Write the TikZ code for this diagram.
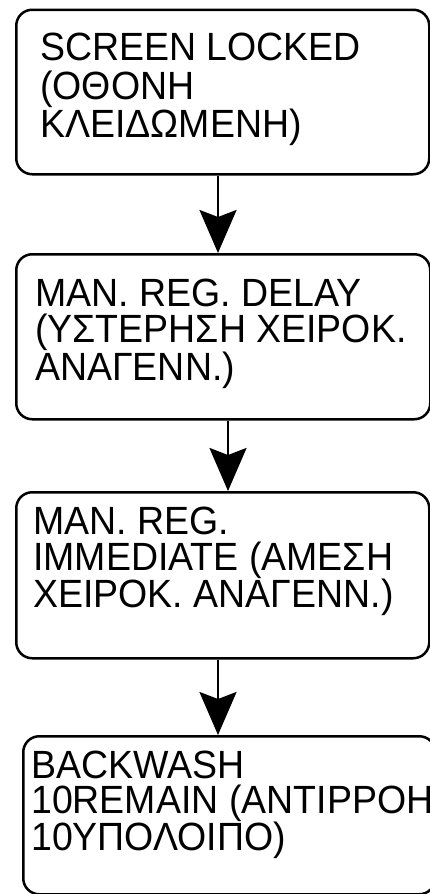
\documentclass[tikz,border=0pt]{standalone}
\usepackage{fontspec}
\setmainfont{Liberation Sans}
\usetikzlibrary{arrows.meta}

\begin{document}
\begin{tikzpicture}[x=1pt, y=-1pt,
  stepbox/.style={draw=black, line width=2.5pt, rounded corners=16pt, inner sep=0pt},
  steptext/.style={anchor=base west, inner sep=0pt},
  flow/.style={line width=2.5pt, -{Stealth[length=43pt, width=37pt, inset=7pt]}}]
  \useasboundingbox (0,0) rectangle (430,894);
  \clip (0,0) rectangle (430,894);

  % boxes
  \node[stepbox, minimum width=413pt, minimum height=164.5pt, anchor=north west] (b1) at (15,8.5) {};
  \node[stepbox, minimum width=414pt, minimum height=165pt, anchor=north west] (b2) at (15,253) {};
  \node[stepbox, minimum width=413pt, minimum height=166pt, anchor=north west] (b3) at (15,491) {};
  \node[stepbox, minimum width=412pt, minimum height=158pt, anchor=north west] (b4) at (22,735) {};

  % texts: slightly tall sans lettering, first argument is the line pitch
  \newcommand\steplines[2]{\scalebox{1}[1.05]{\parbox[t]{500pt}{\raggedright\fontsize{37.5}{#1}\selectfont #2}}}
  \node[steptext] (t1) at (40,60.5) {\steplines{36.7}{SCREEN LOCKED\\(ΟΘΟΝΗ\\ΚΛΕΙΔΩΜΕΝΗ)}};
  \node[steptext] (t2) at (35,306) {\steplines{34.8}{MAN. REG. DELAY\\(ΥΣΤΕΡΗΣΗ ΧΕΙΡΟΚ.\\ΑΝΑΓΕΝΝ.)}};
  \node[steptext] (t3) at (33,534) {\steplines{35.2}{MAN. REG.\\IMMEDIATE (ΑΜΕΣΗ\\ΧΕΙΡΟΚ. ΑΝΑΓΕΝΝ.)}};
  \node[steptext] (t4) at (31,778) {\steplines{33.5}{BACKWASH\\10REMAIN (ΑΝΤΙΡΡΟΗ\\10ΥΠΟΛΟΙΠΟ)}};

  % connectors
  \draw[flow] (b1.south -| 218,0) -- (b2.north -| 218,0);
  \draw[flow] (b2.south -| 228,0) -- (b3.north -| 228,0);
  \draw[flow] (b3.south -| 218,0) -- (b4.north -| 218,0);
\end{tikzpicture}
\end{document}
